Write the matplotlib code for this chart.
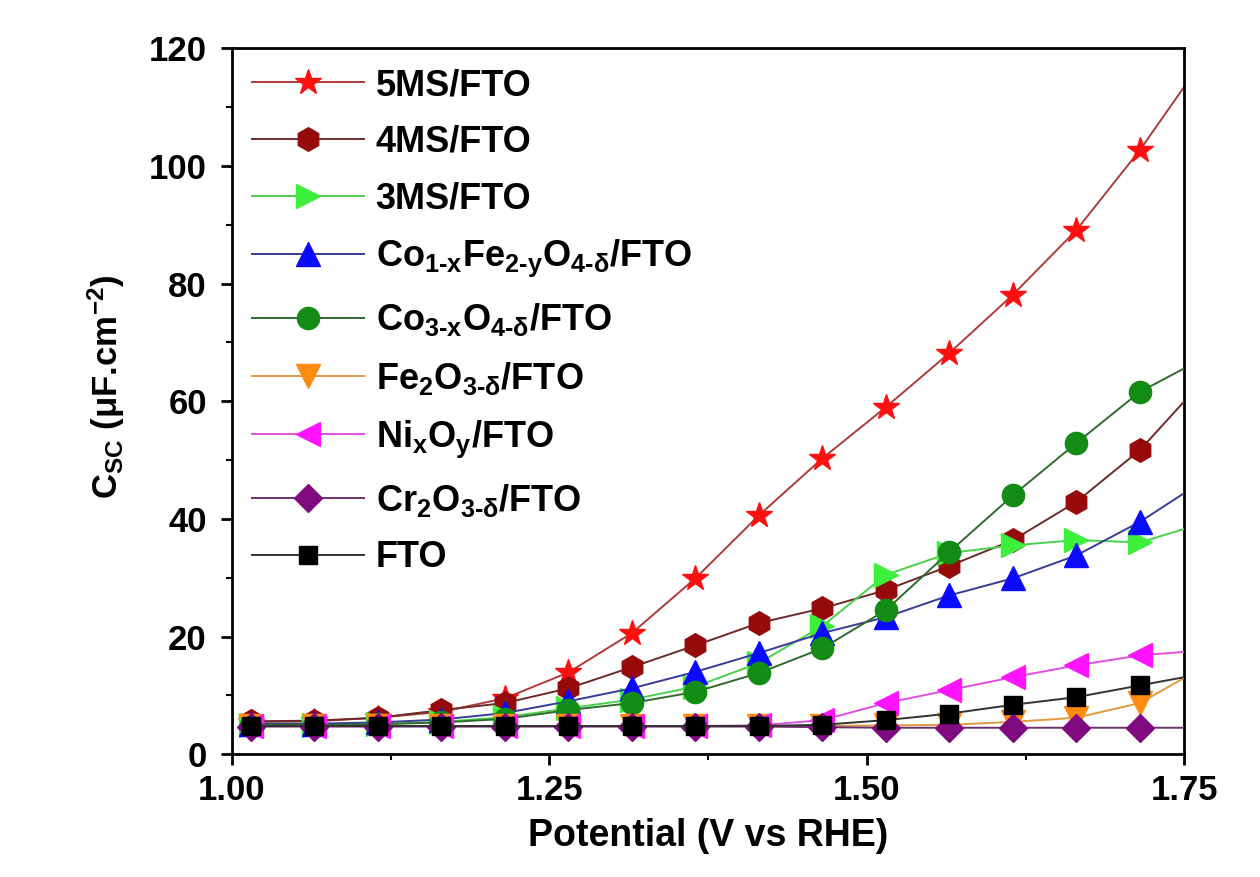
import matplotlib
matplotlib.use('Agg')
import matplotlib.pyplot as plt

plt.rcParams['font.family'] = ['Liberation Sans', 'DejaVu Sans']
plt.rcParams['font.weight'] = 'bold'
plt.rcParams['mathtext.fontset'] = 'custom'
plt.rcParams['mathtext.bf'] = 'Liberation Sans:bold'
plt.rcParams['mathtext.rm'] = 'Liberation Sans:bold'
plt.rcParams['mathtext.it'] = 'Liberation Sans:bold'
plt.rcParams['mathtext.default'] = 'bf'

# potentials of the measured points (V vs RHE) and the value where each curve leaves the frame
potential = [1.015, 1.065, 1.115, 1.165, 1.215, 1.265, 1.315, 1.365,
             1.415, 1.465, 1.515, 1.565, 1.615, 1.665, 1.715]
x_edge = 1.75

ms5 = [5.5, 5.6, 6.2, 7.2, 9.5, 13.9, 20.6, 29.9, 40.6, 50.3, 59.0, 68.2, 78.1, 89.1, 102.7]
ms4 = [5.6, 5.7, 6.2, 7.5, 8.7, 11.2, 14.8, 18.5, 22.3, 24.8, 27.9, 32.0, 36.4, 42.9, 51.7]
ms3 = [5.0, 5.0, 5.1, 5.5, 6.3, 7.8, 9.3, 11.5, 15.5, 21.8, 30.5, 34.2, 35.5, 36.4, 36.0]
cofe = [5.2, 5.2, 5.4, 5.9, 7.0, 9.0, 11.2, 14.0, 17.2, 20.6, 23.3, 27.0, 29.9, 33.8, 39.5]
co = [5.0, 5.0, 5.1, 5.4, 6.0, 7.5, 8.7, 10.6, 13.8, 18.0, 24.5, 34.4, 44.0, 52.9, 61.6]
fe = [4.8, 4.8, 4.8, 4.8, 4.8, 4.8, 4.8, 4.8, 4.8, 4.8, 4.9, 5.0, 5.5, 6.2, 8.7]
ni = [4.8, 4.8, 4.8, 4.8, 4.8, 4.8, 4.8, 4.8, 4.9, 5.8, 8.7, 10.9, 13.1, 15.1, 16.8]
cr = [4.7, 4.7, 4.7, 4.7, 4.7, 4.7, 4.7, 4.7, 4.7, 4.6, 4.5, 4.5, 4.5, 4.5, 4.5]
fto = [4.8, 4.8, 4.8, 4.8, 4.8, 4.8, 4.8, 4.8, 4.8, 5.0, 5.8, 6.9, 8.4, 9.7, 11.7]

edge_vals = [113.5, 60.0, 38.3, 44.4, 65.6, 13.0, 17.4, 4.5, 13.1]

labels = ['5MS/FTO', '4MS/FTO', '3MS/FTO',
          r'Co$_{1\text{-}x}$Fe$_{2\text{-}y}$O$_{4\text{-}\delta}$/FTO',
          r'Co$_{3\text{-}x}$O$_{4\text{-}\delta}$/FTO',
          r'Fe$_{2}$O$_{3\text{-}\delta}$/FTO',
          r'Ni$_{x}$O$_{y}$/FTO',
          r'Cr$_{2}$O$_{3\text{-}\delta}$/FTO',
          'FTO']
series = [ms5, ms4, ms3, cofe, co, fe, ni, cr, fto]
markers = ['*', 'h', '>', '^', 'o', 'v', '<', 'D', 's']
sizes = [19, 17, 17, 17, 16, 17, 17, 14, 13]
mcolors = ['#ff1010', '#960a0a', '#3cf03c', '#0a0aff', '#138c13',
           '#ff8c10', '#ff14ff', '#800a80', '#000000']
lcolors = ['#b03a3a', '#6e2a2a', '#4cd04c', '#3a3a9a', '#2f6a2f',
           '#e09a40', '#e050e0', '#6a306a', '#333333']

fig = plt.figure(figsize=(12.6, 8.77), dpi=100)
ax = fig.add_axes([0.184, 0.140, 0.756, 0.805])

for i in range(len(series)):
    xs = potential + [x_edge]
    ys = series[i] + [edge_vals[i]]
    ax.plot(xs, ys, color=lcolors[i], lw=1.4, marker=markers[i], ms=sizes[i],
            mfc=mcolors[i], mec=mcolors[i], markevery=list(range(len(potential))),
            label=labels[i], zorder=2 + i)

ax.set_xlim(1.0, 1.75)
ax.set_ylim(0, 120)
ax.set_xticks([1.00, 1.25, 1.50, 1.75])
ax.set_xticks([1.125, 1.375, 1.625], minor=True)
ax.set_yticks(range(0, 121, 20))
ax.set_yticks(range(10, 120, 20), minor=True)
ax.set_xticklabels(['1.00', '1.25', '1.50', '1.75'])

for s in ax.spines.values():
    s.set_linewidth(2.0)
ax.tick_params(which='major', direction='out', length=8, width=2, labelsize=25, pad=6)
ax.tick_params(axis='y', which='major', pad=10)
ax.tick_params(which='minor', direction='out', length=4, width=1.5)

ax.set_xlabel('Potential (V vs RHE)', fontsize=27, fontweight='bold', labelpad=8)
ax.set_ylabel(r'C$_{SC}$ ($\mu$F.cm$^{-2}$)', fontsize=25, fontweight='bold')
ax.yaxis.set_label_coords(-0.11, 0.52)

leg = ax.legend(loc='upper left', frameon=False, fontsize=26, handlelength=3.1,
                labelspacing=0.6, handletextpad=0.33, borderpad=0.3,
                borderaxespad=0.25, bbox_to_anchor=(0.0, 1.0))

fig.savefig('out.png', dpi=100)
